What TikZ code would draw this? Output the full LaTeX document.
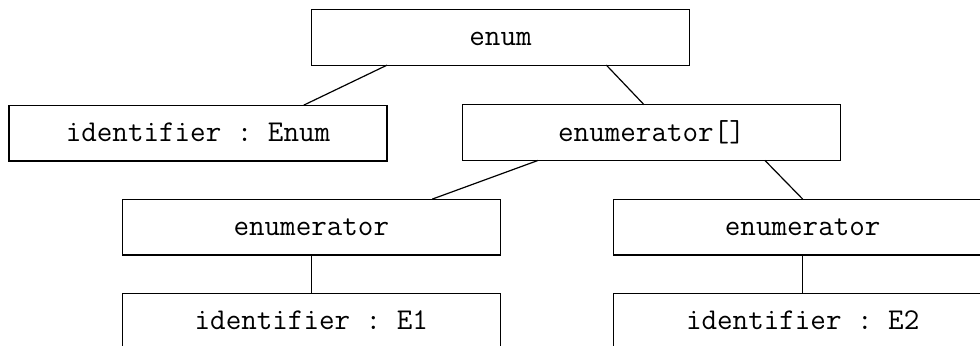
\documentclass[tikz,border=0pt]{standalone}
\usepackage{fontspec}
\usetikzlibrary{calc}

\begin{document}
\begin{tikzpicture}[x=0.5pt,y=-0.5pt]
	\tikzset{
	  field/.style={draw,line width=0.6pt,rectangle,inner sep=0pt,outer sep=0pt,
	    minimum width=189pt,minimum height=27.9pt,
	    text height=10pt,text depth=1.5pt,
	    font=\ttfamily\frenchspacing\fontsize{15.1pt}{17pt}\selectfont},
	  link/.style={line width=0.6pt}
	}
	\useasboundingbox (0,0) rectangle (980,345);
	\clip (0,0) rectangle (980,345);
	%ROOT
	\node[field] (enum) at (500.5,37.2) {enum};
	%LEVEL 1
	\node[field] (idEnum) at (198,133) {identifier : Enum};
	\node[field] (enumArr) at (651.5,132.5) {enumerator[]};
	%LEVEL 2
	\node[field] (enumL) at (311.3,227) {enumerator};
	\node[field] (enumR) at (802.7,227) {enumerator};
	%LEVEL 3
	\node[field] (idE1) at (311.3,321.3) {identifier : E1};
	\node[field] (idE2) at (802.7,321.3) {identifier : E2};
	%LINKS
	\draw[link] ($(enum.south west)!0.2!(enum.south east)$) -- ($(idEnum.north west)!0.78!(idEnum.north east)$);
	\draw[link] ($(enum.south west)!0.78!(enum.south east)$) -- ($(enumArr.north west)!0.48!(enumArr.north east)$);
	\draw[link] ($(enumArr.south west)!0.2!(enumArr.south east)$) -- ($(enumL.north west)!0.82!(enumL.north east)$);
	\draw[link] ($(enumArr.south west)!0.8!(enumArr.south east)$) -- (enumR.north);
	\foreach \a/\b in {enumL/idE1,enumR/idE2} {
		\draw[link] (\a) -- (\b) ;
	  }
\end{tikzpicture}
\end{document}
